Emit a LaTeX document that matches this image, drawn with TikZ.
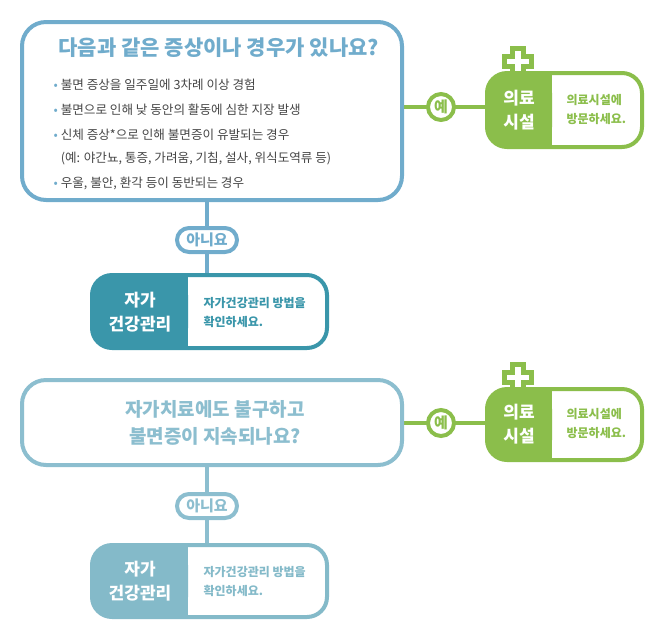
\documentclass[tikz,border=0pt]{standalone}
\usepackage{fontspec}
\setmainfont{Noto Sans CJK KR}
\usetikzlibrary{positioning}
\definecolor{qblue}{RGB}{112,172,204}
\definecolor{qblue2}{RGB}{140,190,207}
\definecolor{selfdark}{RGB}{58,150,170}
\definecolor{selflight}{RGB}{132,186,201}
\definecolor{hosp}{RGB}{139,190,75}
\definecolor{gtext}{RGB}{70,70,70}
\begin{document}
\begin{tikzpicture}[x=0.5pt,y=-0.5pt,line width=2pt]
	\tikzstyle{qbox} = [draw, rounded corners=12pt, fill=white]
	\tikzstyle{pill} = [draw, rounded corners=6pt, fill=white, minimum width=30pt, minimum height=12pt, inner sep=1pt, font=\bfseries\fontsize{7.5}{8}\selectfont]
	\tikzstyle{yes} = [draw=hosp, circle, fill=white, minimum size=13pt, inner sep=0pt, text=hosp, font=\bfseries\fontsize{7.5}{8}\selectfont]
	\tikzstyle{lbl} = [text=white, font=\bfseries\fontsize{8.5}{12}\selectfont, align=center]
	\tikzstyle{msg} = [font=\bfseries\fontsize{6}{9.5}\selectfont, align=left, anchor=west]
	\useasboundingbox (0,0) rectangle (660,639);
	% first question
	\draw[qblue] (207,200) -- (207,275);
	\node[pill, draw=qblue, text=qblue](no1)at (207,240){아니요};
	\draw[hosp] (402,107) -- (487,107);
	\node[yes](yes1)at (441,107){예};
	\draw[qblue, qbox] (22,22) rectangle (402,200);
	\node[text=qblue, font=\bfseries\fontsize{10.5}{12}\selectfont, anchor=west](q1)at (50,48){다음과 같은 증상이나 경우가 있나요?};
	\node[text=gtext, font=\fontsize{6.3}{11.5}\selectfont, anchor=north west, align=left](list1)at (45,70){%
		{\color{qblue}•} 불면 증상을 일주일에 3차례 이상 경험\\[1pt]
		{\color{qblue}•} 불면으로 인해 낮 동안의 활동에 심한 지장 발생\\[1pt]
		{\color{qblue}•} 신체 증상*으로 인해 불면증이 유발되는 경우\\
		\phantom{•} (예: 야간뇨, 통증, 가려움, 기침, 설사, 위식도역류 등)\\[1pt]
		{\color{qblue}•} 우울, 불안, 환각 등이 동반되는 경우};
	% hospital 1
	\draw[hosp, line width=2.5pt, fill=white] (512,48) -- (523,48) -- (523,56) -- (531,56) -- (531,66) -- (523,66) -- (523,73) -- (512,73) -- (512,66) -- (504,66) -- (504,56) -- (512,56) -- cycle;
	\draw[hosp, rounded corners=10pt, fill=white] (487,73) rectangle (642,147);
	\fill[hosp, rounded corners=10pt] (487,73) rectangle (552,147);
	\fill[hosp] (530,73) rectangle (552,147);
	\node[lbl](h1)at (519,110){의료\\시설};
	\node[msg, text=hosp](hm1)at (558,110){의료시설에\\방문하세요.};
	% self care 1
	\draw[selfdark, rounded corners=10pt, fill=white] (92,275) rectangle (327,348);
	\fill[selfdark, rounded corners=10pt] (92,275) rectangle (188,348);
	\fill[selfdark] (170,275) rectangle (188,348);
	\node[lbl](s1)at (140,312){자가\\건강관리};
	\node[msg, text=selfdark](sm1)at (195,312){자가건강관리 방법을\\확인하세요.};
	% second question
	\draw[qblue2] (207,465) -- (207,545);
	\node[pill, draw=qblue2, text=qblue2](no2)at (207,506){아니요};
	\draw[hosp] (402,423) -- (487,423);
	\node[yes](yes2)at (441,423){예};
	\draw[qblue2, qbox] (22,380) rectangle (402,465);
	\node[text=qblue2, font=\bfseries\fontsize{9.5}{13.5}\selectfont, align=center](q2)at (215,423){자가치료에도 불구하고\\불면증이 지속되나요?};
	% hospital 2
	\draw[hosp, line width=2.5pt, fill=white] (512,364) -- (523,364) -- (523,372) -- (531,372) -- (531,382) -- (523,382) -- (523,389) -- (512,389) -- (512,382) -- (504,382) -- (504,372) -- (512,372) -- cycle;
	\draw[hosp, rounded corners=10pt, fill=white] (487,389) rectangle (642,460);
	\fill[hosp, rounded corners=10pt] (487,389) rectangle (552,460);
	\fill[hosp] (530,389) rectangle (552,460);
	\node[lbl](h2)at (519,424){의료\\시설};
	\node[msg, text=hosp](hm2)at (558,424){의료시설에\\방문하세요.};
	% self care 2
	\draw[selflight, rounded corners=10pt, fill=white] (92,545) rectangle (327,617);
	\fill[selflight, rounded corners=10pt] (92,545) rectangle (188,617);
	\fill[selflight] (170,545) rectangle (188,617);
	\node[lbl](s2)at (140,581){자가\\건강관리};
	\node[msg, text=selflight](sm2)at (195,581){자가건강관리 방법을\\확인하세요.};
\end{tikzpicture}
\end{document}
